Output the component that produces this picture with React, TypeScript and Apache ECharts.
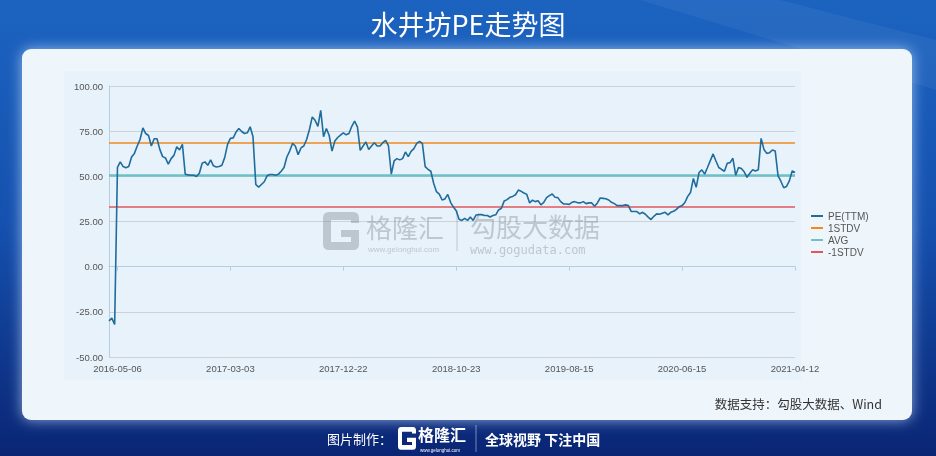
import React, { useEffect, useRef } from "react";
import * as echarts from "echarts";

const TITLE = "水井坊PE走势图";
const SOURCE_TEXT = "数据支持：勾股大数据、Wind";
const FOOTER_LEFT = "图片制作：";
const FOOTER_BRAND = "格隆汇";
const FOOTER_SLOGAN = "全球视野 下注中国";
const WM_BRAND_1 = "格隆汇";
const WM_URL_1 = "www.gelonghui.com";
const WM_BRAND_2 = "勾股大数据";
const WM_URL_2 = "www.gogudata.com";

// x-axis tick labels (trading-day category axis)
const LABEL_DATES = ["2016-05-06", "2017-03-03", "2017-12-22", "2018-10-23", "2019-08-15", "2020-06-15", "2021-04-12"];
const LEAD_POINTS = 3;
const POINTS_PER_LABEL = 40;

const SERIES_NAMES = ["PE(TTM)", "1STDV", "AVG", "-1STDV"];

const PE_TTM = [
  -30, -28.5, -32, 55, 58, 55.4, 54.7, 55.4, 60.7, 62.7,
  66.8, 70.4, 76.8, 73.7, 72.6, 66.8, 70.8, 70.8, 64.9, 60.9,
  60.2, 56.7, 59.8, 61.6, 66.4, 64.6, 67.7, 51.2, 50.8, 50.6,
  50.6, 49.9, 51.7, 57.2, 58.0, 56.1, 59.1, 55.8, 55.2, 55.4,
  56.1, 60.5, 67.7, 71, 71.3, 74.5, 76.5, 74.8, 73.7, 74.1,
  77.4, 72, 45.5, 44, 45.5, 47, 50.3, 51, 51, 50.6,
  51.2, 52.8, 54.9, 60.7, 64, 68.2, 66.8, 62, 65.7, 66.8,
  70.4, 75.9, 82.9, 81, 77.7, 86.5, 71.9, 76.5, 72.6, 64,
  69.5, 71.5, 72.8, 74.1, 73, 73.7, 77.7, 80.5, 77.4, 64.4,
  66.8, 69, 64.9, 66.8, 68.6, 66.8, 66.8, 68.6, 69.9, 66.8,
  51.2, 58.5, 59.8, 59.1, 59.8, 63.5, 60.9, 63.8, 65.3, 68.2,
  69.3, 68.2, 55.4, 53.9, 52.8, 46.2, 41.5, 40.2, 36.9, 37.5,
  40, 35.6, 33, 31, 26.3, 25.6, 26.7, 25.6, 27.5, 25.6,
  28.6, 28.8, 28.8, 28.3, 28.3, 27.5, 28.3, 28.7, 31.4, 32.3,
  36.4, 37.1, 38.4, 38.9, 39.8, 42.4, 41.7, 40.8, 40, 35.3,
  36.8, 36, 36.5, 34.2, 35.6, 38.2, 39.3, 40.2, 38.4, 38.2,
  36, 34.7, 34.7, 34.5, 35.6, 36, 35.4, 35.3, 36, 34.9,
  35.3, 35.3, 33.4, 35.3, 38, 37.8, 37.6, 36.9, 35.6, 34.9,
  33.8, 33.8, 33.8, 34.2, 33.8, 30.5, 30.5, 30.5, 29.2, 30.1,
  29, 27.4, 26.1, 27.9, 29.2, 29, 29.6, 30.1, 28.7, 30.1,
  30.7, 31.7, 33.2, 33.8, 35.5, 38.9, 41.1, 48.8, 43.9, 52.1,
  53.6, 51.2, 54.9, 58.7, 62.4, 58.5, 54.9, 53.8, 52.8, 57.2,
  57.6, 60, 50.6, 54.9, 54.3, 52.5, 49.4, 51.7, 53.6, 53,
  53.6, 71, 64.9, 62.7, 63.1, 64.6, 64, 50.3, 47.3, 43.7,
  44.4, 47.5, 53, 52.1,
];

const STDV_PLUS = 68.6;
const AVG_VALUE = 50.7;
const STDV_MINUS = 33.0;

const Y_MIN = -50;
const Y_MAX = 100;
const Y_STEP = 25;

function buildCategories(): string[] {
  const day = 86400000;
  const parse = (s: string) => new Date(s + "T00:00:00Z").getTime();
  const fmt = (t: number) => new Date(t).toISOString().slice(0, 10);
  const out: string[] = [];
  const first = parse(LABEL_DATES[0]);
  for (let i = LEAD_POINTS; i > 0; i--) out.push(fmt(first - i * 4 * day));
  for (let k = 0; k < LABEL_DATES.length - 1; k++) {
    const a = parse(LABEL_DATES[k]);
    const b = parse(LABEL_DATES[k + 1]);
    const span = Math.round((b - a) / day);
    for (let j = 0; j < POINTS_PER_LABEL; j++) {
      out.push(j === 0 ? LABEL_DATES[k] : fmt(a + Math.round((span * j) / POINTS_PER_LABEL) * day));
    }
  }
  out.push(LABEL_DATES[LABEL_DATES.length - 1]);
  return out;
}

const G_LOGO_D =
  "M0 6 Q0 0 6 0 L30 0 Q36 0 36 6 L36 11 L28 11 L28 8 L8 8 L8 30 L28 30 L28 25 L18 25 L18 18 L36 18 L36 32 Q36 38 30 38 L6 38 Q0 38 0 32 Z";

let registered = false;
function ensureShapes() {
  if (registered) return;
  echarts.graphic.registerShape("glogo", echarts.graphic.extendPath(G_LOGO_D, {}) as any);
  registered = true;
}

const CJK = "'Noto Sans CJK SC', 'Noto Sans', sans-serif";
const LATIN = "'Liberation Sans', Arial, sans-serif";

export default function App() {
  const ref = useRef<HTMLDivElement>(null);

  useEffect(() => {
    if (!ref.current) return;
    ensureShapes();
    const chart = echarts.init(ref.current, undefined, { renderer: "svg", width: 936, height: 456 });
    const categories = buildCategories();
    const isLabel = (_i: number, v: string) => LABEL_DATES.includes(v);
    const wmColor = "rgba(120,130,140,0.38)";

    const markLineFor = (value: number, color: string, width: number) => ({
      silent: true,
      symbol: "none",
      label: { show: false },
      lineStyle: { color, width, type: "solid" },
      data: [{ yAxis: value }],
    });

    chart.setOption({
      animation: false,
      textStyle: { fontFamily: LATIN },
      grid: { left: 109, top: 86, right: 141, bottom: 99, containLabel: false },
      legend: {
        orient: "vertical",
        left: 806,
        top: 205,
        icon: "rect",
        itemWidth: 12,
        itemHeight: 2,
        itemGap: 0,
        data: SERIES_NAMES,
        textStyle: { fontSize: 10, color: "#555", lineHeight: 12, fontFamily: LATIN },
      },
      xAxis: {
        type: "category",
        data: categories,
        boundaryGap: false,
        axisLine: { lineStyle: { color: "#b7cde2", width: 1 } },
        axisTick: { show: true, interval: isLabel, length: 4, lineStyle: { color: "#b7cde2" } },
        axisLabel: { interval: isLabel, color: "#555", fontSize: 9.5, margin: 6, fontFamily: LATIN },
        splitLine: { show: false },
      },
      yAxis: {
        type: "value",
        min: Y_MIN,
        max: Y_MAX,
        interval: Y_STEP,
        axisLine: { show: true, lineStyle: { color: "#b7cde2" } },
        axisTick: { show: false },
        axisLabel: {
          color: "#555",
          fontSize: 9.5,
          margin: 6,
          fontFamily: LATIN,
          formatter: (v: number) => v.toFixed(2),
        },
        splitLine: { lineStyle: { color: "#ccd2d7", width: 1.2 } },
      },
      series: [
        {
          name: SERIES_NAMES[0],
          type: "line",
          data: PE_TTM,
          showSymbol: false,
          symbol: "none",
          color: "#1f6c9d",
          lineStyle: { color: "#1f6c9d", width: 1.6 },
          z: 5,
        },
        {
          name: SERIES_NAMES[1],
          type: "line",
          data: [],
          symbol: "none",
          color: "#f08a1c",
          lineStyle: { color: "#f08a1c" },
          markLine: markLineFor(STDV_PLUS, "#f08a1c", 1.6),
          z: 3,
        },
        {
          name: SERIES_NAMES[2],
          type: "line",
          data: [],
          symbol: "none",
          color: "#6cc1c6",
          lineStyle: { color: "#6cc1c6" },
          markLine: markLineFor(AVG_VALUE, "#6cc1c6", 2.6),
          z: 3,
        },
        {
          name: SERIES_NAMES[3],
          type: "line",
          data: [],
          symbol: "none",
          color: "#e0575c",
          lineStyle: { color: "#e0575c" },
          markLine: markLineFor(STDV_MINUS, "#e0575c", 1.6),
          z: 3,
        },
      ],
      graphic: [
        {
          type: "rect",
          z: -20,
          silent: true,
          shape: { x: 0, y: 0, width: 936, height: 456 },
          style: {
            fill: new echarts.graphic.LinearGradient(0, 0, 0, 1, [
              { offset: 0, color: "#1c63c0" },
              { offset: 0.5, color: "#1550ae" },
              { offset: 1, color: "#0a2574" },
            ]),
          },
        },
        {
          type: "polygon",
          z: -19,
          silent: true,
          shape: { points: [[640, 0], [780, 0], [936, 40], [936, 90]] },
          style: { fill: "rgba(255,255,255,0.05)" },
        },
        {
          type: "rect",
          z: -18,
          silent: true,
          shape: { x: 22, y: 49, width: 890, height: 371, r: 9 },
          style: { fill: "#eef6fc", shadowBlur: 14, shadowColor: "rgba(200,225,255,0.7)" },
        },
        {
          type: "rect",
          z: -17,
          silent: true,
          shape: { x: 64, y: 71, width: 737, height: 309 },
          style: { fill: "#e7f2fa" },
        },
        {
          type: "text",
          z: 10,
          silent: true,
          x: 468,
          y: 23,
          style: {
            text: TITLE,
            fill: "#ffffff",
            fontSize: 27,
            fontFamily: CJK,
            align: "center",
            verticalAlign: "middle",
          },
        },
        {
          type: "text",
          z: 10,
          silent: true,
          x: 882,
          y: 403,
          style: {
            text: SOURCE_TEXT,
            fill: "#333",
            fontSize: 12.5,
            fontFamily: CJK,
            align: "right",
            verticalAlign: "middle",
          },
        },
        // footer
        {
          type: "text",
          z: 10,
          silent: true,
          x: 327,
          y: 438,
          style: { text: FOOTER_LEFT, fill: "#fff", fontSize: 13, fontFamily: CJK, verticalAlign: "middle" },
        },
        {
          type: "glogo",
          z: 10,
          silent: true,
          x: 398,
          y: 427,
          scaleX: 0.5,
          scaleY: 0.6,
          style: { fill: "#ffffff" },
        },
        {
          type: "text",
          z: 10,
          silent: true,
          x: 418,
          y: 434,
          style: {
            text: FOOTER_BRAND,
            fill: "#fff",
            fontSize: 16,
            fontWeight: "bold",
            fontFamily: CJK,
            verticalAlign: "middle",
          },
        },
        {
          type: "text",
          z: 10,
          silent: true,
          x: 420,
          y: 450,
          style: { text: WM_URL_1, fill: "#fff", fontSize: 4.5, fontFamily: LATIN, verticalAlign: "middle" },
        },
        {
          type: "line",
          z: 10,
          silent: true,
          shape: { x1: 476, y1: 425, x2: 476, y2: 452 },
          style: { stroke: "rgba(255,255,255,0.45)", lineWidth: 1 },
        },
        {
          type: "text",
          z: 10,
          silent: true,
          x: 485,
          y: 439,
          style: {
            text: FOOTER_SLOGAN,
            fill: "#fff",
            fontSize: 14,
            fontWeight: "bold",
            fontFamily: CJK,
            verticalAlign: "middle",
          },
        },
        // watermark
        {
          type: "glogo",
          z: 1,
          silent: true,
          x: 323,
          y: 212,
          scaleX: 1,
          scaleY: 1,
          style: { fill: wmColor },
        },
        {
          type: "text",
          z: 1,
          silent: true,
          x: 366,
          y: 226,
          style: { text: WM_BRAND_1, fill: wmColor, fontSize: 26, fontFamily: CJK, verticalAlign: "middle" },
        },
        {
          type: "text",
          z: 1,
          silent: true,
          x: 368,
          y: 249,
          style: { text: WM_URL_1, fill: wmColor, fontSize: 8, fontFamily: LATIN, verticalAlign: "middle" },
        },
        {
          type: "line",
          z: 1,
          silent: true,
          shape: { x1: 457, y1: 210, x2: 457, y2: 251 },
          style: { stroke: wmColor, lineWidth: 1 },
        },
        {
          type: "text",
          z: 1,
          silent: true,
          x: 470,
          y: 225,
          style: { text: WM_BRAND_2, fill: wmColor, fontSize: 26, fontFamily: CJK, verticalAlign: "middle" },
        },
        {
          type: "text",
          z: 1,
          silent: true,
          x: 470,
          y: 250,
          style: {
            text: WM_URL_2,
            fill: wmColor,
            fontSize: 12,
            fontFamily: "'DejaVu Sans Mono', monospace",
            verticalAlign: "middle",
          },
        },
      ],
    });

    return () => {
      chart.dispose();
    };
  }, []);

  return (
    <div
      ref={ref}
      style={{ position: "fixed", left: 0, top: 0, width: 936, height: 456 }}
    />
  );
}
